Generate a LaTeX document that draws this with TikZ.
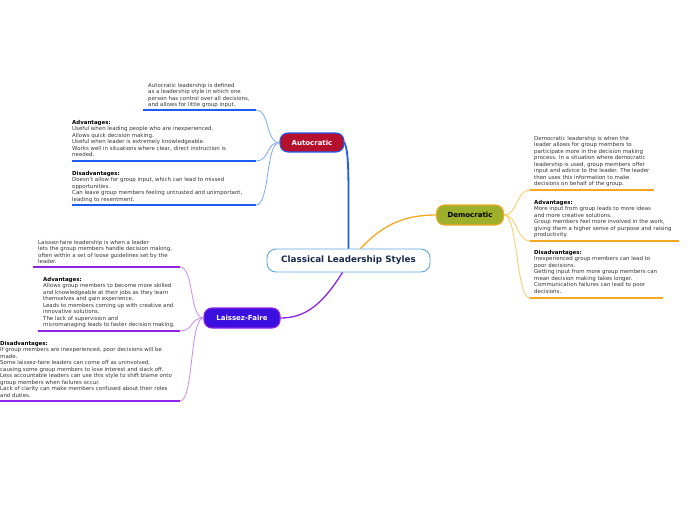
\documentclass[tikz,border=0pt]{standalone}
\usepackage{fontspec}
\setmainfont{DejaVu Sans}
\definecolor{autofill}{HTML}{B5102E}
\definecolor{autoline}{HTML}{1F5BF0}
\definecolor{autocurve}{HTML}{7AA7FF}
\definecolor{demfill}{HTML}{9CB02C}
\definecolor{demline}{HTML}{F7A823}
\definecolor{demcurve}{HTML}{FFC860}
\definecolor{lffill}{HTML}{3A0FE0}
\definecolor{lfline}{HTML}{8E24E6}
\definecolor{lfcurve}{HTML}{C98AF5}
\definecolor{rootline}{HTML}{5AA8DA}
\definecolor{titletext}{HTML}{1B2A4A}
\definecolor{bodytext}{HTML}{333333}
\tikzset{
  topic/.style={rounded corners=8pt, inner sep=0pt, line width=1.1pt, font=\fontsize{7}{8}\selectfont\bfseries, text=white},
  body/.style={anchor=north west, inner sep=0pt, align=left, text=bodytext, font=\fontsize{5.45}{6.55}\selectfont},
  uline/.style={line width=1.4pt},
  sub/.style={line width=0.8pt},
}
\newcommand{\hdr}[1]{{\bfseries\color{black}#1}}
\begin{document}
\begin{tikzpicture}[x=1pt,y=-1pt]
\useasboundingbox (0,0) rectangle (696,520);

\node[rounded corners=9pt, draw=rootline, line width=0.9pt, fill=white, minimum width=163pt, minimum height=23pt, inner sep=0pt, text=titletext, font=\fontsize{8.8}{10}\selectfont\bfseries] (root) at (348.5,260.5) {Classical Leadership Styles};
\node[topic, draw=autoline, fill=autofill, minimum width=64pt, minimum height=19pt] (auto) at (312,142.5) {Autocratic};
\node[topic, draw=demline, fill=demfill, text=black, minimum width=67pt, minimum height=20pt] (dem) at (470,215) {Democratic};
\node[topic, draw=lfline, fill=lffill, minimum width=76pt, minimum height=20pt] (lf) at (242,318) {Laissez-Faire};

\draw[autoline, line width=1.8pt] (root.north) -- ++(0,-49) .. controls +(0,-40) and +(3,8) .. (auto.east);
\draw[demline, line width=1.3pt] ([xshift=12pt]root.north) .. controls (385,222) and (408,215) .. (dem.west);
\draw[lfline, line width=1.3pt] ([xshift=-6pt]root.south) .. controls (322,305) and (305,318) .. (lf.east);

% Autocratic children
\node[body] (a1) at (148,82.7) {Autocratic leadership is defined\\as a leadership style in which one\\person has control over all decisions,\\and allows for little group input.};
\node[body] (a2) at (72,119.7) {\hdr{Advantages:}\\Useful when leading people who are inexperienced.\\Allows quick decision making.\\Useful when leader is extremely knowledgeable.\\Works well in situations where clear, direct instruction is\\needed.};
\node[body] (a3) at (72,170.7) {\hdr{Disadvantages:}\\Doesn't allow for group input, which can lead to missed\\opportunities.\\Can leave group members feeling untrusted and unimportant,\\leading to resentment.};
\coordinate (a1l) at (143,110); \coordinate (a1r) at (256,110);
\coordinate (a2l) at (72,161);  \coordinate (a2r) at (256,161);
\coordinate (a3l) at (72,205);  \coordinate (a3r) at (256,205);
\draw[autoline, uline] (a1l) -- (a1r);
\draw[autoline, uline] (a2l) -- (a2r);
\draw[autoline, uline] (a3l) -- (a3r);
\foreach \c in {a1r,a2r,a3r}
  \draw[autocurve, sub] (auto.west) .. controls +(-14,0) and +(14,0) .. (\c);

% Democratic children
\node[body] (d1) at (534,135.7) {Democratic leadership is when the\\leader allows for group members to\\participate more in the decision making\\process. In a situation where democratic\\leadership is used, group members offer\\input and advice to the leader. The leader\\then uses this information to make\\decisions on behalf of the group.};
\node[body] (d2) at (534,199.7) {\hdr{Advantages:}\\More input from group leads to more ideas\\and more creative solutions.\\Group members feel more involved in the work,\\giving them a higher sense of purpose and raising\\productivity.};
\node[body] (d3) at (534,249.7) {\hdr{Disadvantages:}\\Inexperienced group members can lead to\\poor decisions.\\Getting input from more group members can\\mean decision making takes longer.\\Communication failures can lead to poor\\decisions.};
\coordinate (d1l) at (530,190); \coordinate (d1r) at (654,190);
\coordinate (d2l) at (530,241); \coordinate (d2r) at (679,241);
\coordinate (d3l) at (530,298); \coordinate (d3r) at (663,298);
\draw[demline, uline] (d1l) -- (d1r);
\draw[demline, uline] (d2l) -- (d2r);
\draw[demline, uline] (d3l) -- (d3r);
\foreach \c in {d1l,d2l,d3l}
  \draw[demcurve, sub] (dem.east) .. controls +(14,0) and +(-14,0) .. (\c);

% Laissez-Faire children
\node[body] (l1) at (38,239.7) {Laissez-faire leadership is when a leader\\lets the group members handle decision making,\\often within a set of loose guidelines set by the\\leader.};
\node[body] (l2) at (43,276.7) {\hdr{Advantages:}\\Allows group members to become more skilled\\and knowledgeable at their jobs as they learn\\themselves and gain experience.\\Leads to members coming up with creative and\\innovative solutions.\\The lack of supervision and\\micromanaging leads to faster decision making.};
\node[body] (l3) at (0,340.7) {\hdr{Disadvantages:}\\If group members are inexperienced, poor decisions will be\\made.\\Some laissez-faire leaders can come off as uninvolved,\\causing some group members to lose interest and slack off.\\Less accountable leaders can use this style to shift blame onto\\group members when failures occur.\\Lack of clarity can make members confused about their roles\\and duties.};
\coordinate (l1l) at (33,267); \coordinate (l1r) at (180,267);
\coordinate (l2l) at (38,331); \coordinate (l2r) at (180,331);
\coordinate (l3l) at (0,401);  \coordinate (l3r) at (180,401);
\draw[lfline, uline] (l1l) -- (l1r);
\draw[lfline, uline] (l2l) -- (l2r);
\draw[lfline, uline] (l3l) -- (l3r);
\foreach \c in {l1r,l2r,l3r}
  \draw[lfcurve, sub] (lf.west) .. controls +(-14,0) and +(14,0) .. (\c);
\end{tikzpicture}
\end{document}
